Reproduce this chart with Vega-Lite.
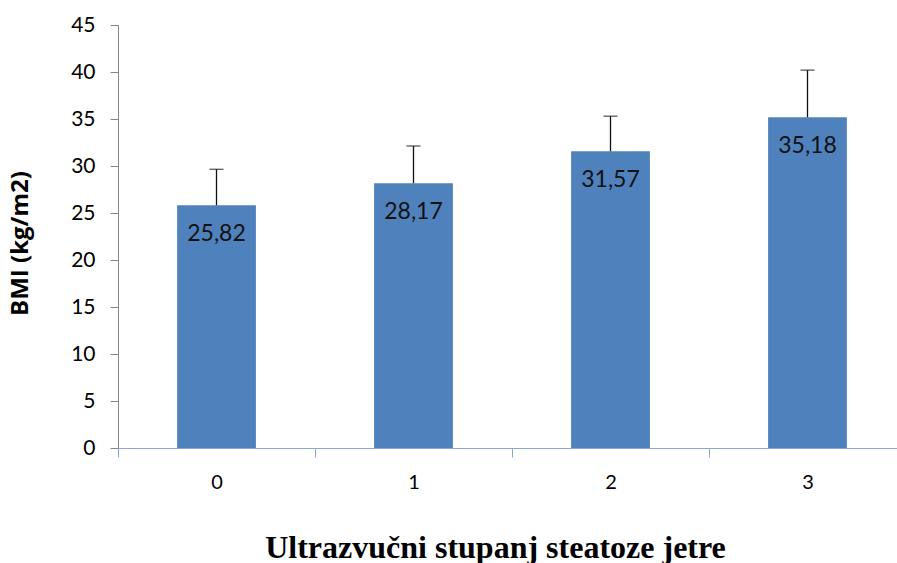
{
  "$schema": "https://vega.github.io/schema/vega-lite/v6.json",
  "width": 779,
  "height": 423,
  "autosize": {"type": "none"},
  "padding": {"left": 118, "top": 25, "right": 0, "bottom": 115},
  "background": "white",
  "config": {"view": {"stroke": null}},
  "data": {"values": [
    {"stupanj": "0", "bmi": 25.82, "upper": 29.65, "label": "25,82"},
    {"stupanj": "1", "bmi": 28.17, "upper": 32.13, "label": "28,17"},
    {"stupanj": "2", "bmi": 31.57, "upper": 35.3, "label": "31,57"},
    {"stupanj": "3", "bmi": 35.18, "upper": 40.2, "label": "35,18"}
  ]},
  "encoding": {
    "x": {
      "field": "stupanj", "type": "nominal",
      "scale": {"range": [0, 788], "paddingInner": 0, "paddingOuter": 0},
      "axis": {
        "title": "Ultrazvučni stupanj steatoze jetre",
        "titleFont": "Liberation Serif", "titleFontSize": 32, "titleFontWeight": "bold",
        "titleColor": "black", "titlePadding": 40, "titleX": 377,
        "labelAngle": 0, "labelFont": "Lato", "labelFontSize": 20, "labelColor": "black",
        "labelPadding": 15,
        "domainColor": "#8aa8d6", "tickColor": "#8aa8d6", "tickSize": 9,
        "tickBand": "extent", "grid": false
      }
    }
  },
  "layer": [
    {
      "mark": {"type": "bar", "color": "#4f81bd", "width": {"band": 0.4}},
      "encoding": {
        "y": {
          "field": "bmi", "type": "quantitative",
          "scale": {"domain": [0, 45], "nice": false},
          "axis": {
            "values": [0, 5, 10, 15, 20, 25, 30, 35, 40, 45],
            "title": "BMI (kg/m2)",
            "titleFont": "Open Sans", "titleFontSize": 24, "titleFontWeight": "bold",
            "titleColor": "black", "titlePadding": 38, "titleY": 218,
            "labelFont": "Lato", "labelFontSize": 21, "labelColor": "black",
            "labelPadding": 15,
            "domainColor": "#868686", "tickColor": "#868686", "tickSize": 8,
            "grid": false
          }
        }
      }
    },
    {
      "mark": {"type": "rule", "color": "#111111", "strokeWidth": 1.3},
      "encoding": {
        "y": {"field": "bmi", "type": "quantitative"},
        "y2": {"field": "upper"}
      }
    },
    {
      "mark": {"type": "tick", "color": "#111111", "thickness": 1.3, "size": 14},
      "encoding": {
        "y": {"field": "upper", "type": "quantitative"}
      }
    },
    {
      "mark": {"type": "text", "font": "Lato", "fontSize": 23, "color": "#111111", "baseline": "middle", "dy": 29},
      "encoding": {
        "y": {"field": "bmi", "type": "quantitative"},
        "text": {"field": "label"}
      }
    }
  ]
}
